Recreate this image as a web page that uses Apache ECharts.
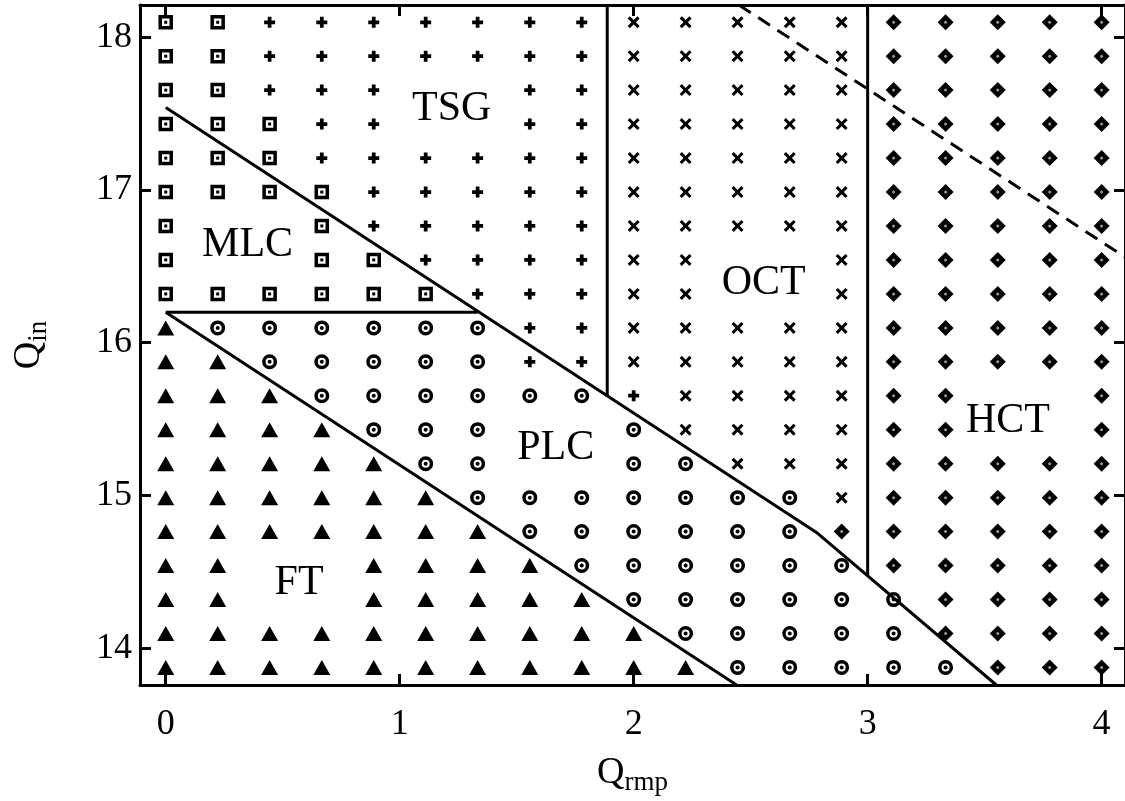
<!DOCTYPE html>
<html>
<head>
<meta charset="utf-8">
<script src="https://cdn.jsdelivr.net/npm/echarts@6/dist/echarts.min.js"></script>
<style>
html, body { margin: 0; padding: 0; background: #fff; }
#main { width: 1125px; height: 801px; }
</style>
</head>
<body>
<div id="main"></div>
<script>
// points of the scan
const qRmp = [0, 0.222, 0.444, 0.667, 0.889, 1.111, 1.333, 1.556, 1.778, 2.0,
  2.222, 2.444, 2.667, 2.889, 3.111, 3.333, 3.556, 3.778, 4.0]
const qIn = [13.875, 14.097, 14.319, 14.542, 14.764, 14.986, 15.208, 15.431, 15.653, 15.875,
  16.097, 16.319, 16.542, 16.764, 16.986, 17.208, 17.431, 17.653, 17.875, 18.097]

// regime of each point, top row first (S=MLC P=TSG X=OCT D=HCT C=PLC T=FT, '.' = none)
const regimeRows = [
  'SSPPPPPPPXXXXXDDDDD',
  'SSPPPPPPPXXXXXDDDDD',
  'SSPPP..PPXXXXXDDDDD',
  'SSSPP..PPXXXXXDDDDD',
  'SSSPPPPPPXXXXXDDDDD',
  'SSSSPPPPPXXXXXDDDDD',
  'S..SPPPPPXXXXXDDDDD',
  'S..SSPPPPXX..XDDDDD',
  'SSSSSSPPPXX..XDDDDD',
  'TCCCCCCPPXXXXXDDDDD',
  'TTCCCCCPPXXXXXDDDDD',
  'TTTCCCCCCPXXXXDD..D',
  'TTTTCCC..CXXXXDD..D',
  'TTTTTCC..CCXXXDDDDD',
  'TTTTTTCCCCCCCXDDDDD',
  'TTTTTTTCCCCCCDDDDDD',
  'TT..TTTTCCCCCCDDDDD',
  'TT..TTTTTCCCCCCDDDD',
  'TTTTTTTTTTCCCCCDDDD',
  'TTTTTTTTTTTCCCCCDDD'
]

// region names
const regionNames = ['TSG', 'MLC', 'OCT', 'PLC', 'FT', 'HCT']
const regionX = [1.222, 0.35, 2.556, 1.667, 0.57, 3.6]
const regionY = [17.53, 16.64, 16.39, 15.31, 14.43, 15.49]

// boundaries
const upperBound = [[0, 17.54], [2.78, 14.76], [3.55, 13.76]]
const lowerBound = [[0, 16.2], [2.44, 13.76]]
const mlcBound = [[0, 16.2], [1.333, 16.2]]
const tsgBound = [[1.887, 15.653], [1.887, 18.21]]
const hctBound = [[3.0, 14.48], [3.0, 18.21]]
const dashBound = [[2.45, 18.21], [4.1, 16.56]]

const xTicks = [0, 1, 2, 3, 4]
const yTicks = [14, 15, 16, 17, 18]

let pts = { S: [], P: [], X: [], D: [], C: [], T: [] }
regimeRows.forEach((row, r) => {
  let j = qIn.length - 1 - r
  for (let i = 0; i < row.length; i++) {
    let c = row[i]
    if (pts[c]) pts[c].push([qRmp[i], qIn[j]])
  }
})

const plusPath = 'path://M3.3,0H6.7V3.3H10V6.7H6.7V10H3.3V6.7H0V3.3H3.3Z'
const crossPath = 'path://M0,1.8L1.8,0L5,3.2L8.2,0L10,1.8L6.8,5L10,8.2L8.2,10L5,6.8L1.8,10L0,8.2L3.2,5Z'
const font = "'Liberation Serif', 'Times New Roman', serif"

function marks(data, symbol, size, style) {
  return { type: 'scatter', data: data, symbol: symbol, symbolSize: size, silent: true,
    itemStyle: Object.assign({ color: '#000', opacity: 1 }, style || {}), z: 2 }
}
function bound(data, dashed) {
  return { type: 'line', data: data, showSymbol: false, silent: true, z: 5,
    lineStyle: { color: '#000', width: 3, opacity: 1, type: dashed ? [14, 9] : 'solid' } }
}

let axisCommon = {
  type: 'value',
  axisLine: { show: true, onZero: false, lineStyle: { color: '#000', width: 3 } },
  axisTick: { show: true, inside: true, length: 11, lineStyle: { color: '#000', width: 3 } },
  splitLine: { show: false }
}

let myChart = echarts.init(document.getElementById('main'))
let option = {
  animation: false,
  backgroundColor: '#fff',
  grid: { left: 140, top: 5, width: 988, height: 680 },
  xAxis: [
    Object.assign({}, axisCommon, {
      min: -0.11, max: 4.1, position: 'bottom',
      axisTick: Object.assign({}, axisCommon.axisTick, { customValues: xTicks }),
      axisLabel: { customValues: xTicks, color: '#000', fontFamily: font, fontSize: 36, margin: 22 },
      name: '{q|Q}{s|rmp}', nameLocation: 'middle', nameGap: 66,
      nameTextStyle: { rich: {
        q: { fontFamily: font, fontSize: 38, color: '#000' },
        s: { fontFamily: font, fontSize: 27, color: '#000', padding: [18, 0, 0, 0] }
      } }
    }),
    Object.assign({}, axisCommon, {
      min: -0.11, max: 4.1, position: 'top',
      axisTick: Object.assign({}, axisCommon.axisTick, { customValues: xTicks }),
      axisLabel: { show: false }
    })
  ],
  yAxis: [
    Object.assign({}, axisCommon, {
      min: 13.76, max: 18.21, position: 'left',
      axisTick: Object.assign({}, axisCommon.axisTick, { customValues: yTicks }),
      axisLabel: { customValues: yTicks, color: '#000', fontFamily: font, fontSize: 36, margin: 8 },
      name: '{q|Q}{s|in}', nameLocation: 'middle', nameGap: 88, nameRotate: 90,
      nameTextStyle: { rich: {
        q: { fontFamily: font, fontSize: 38, color: '#000' },
        s: { fontFamily: font, fontSize: 27, color: '#000', padding: [18, 0, 0, 0] }
      } }
    }),
    Object.assign({}, axisCommon, {
      min: 13.76, max: 18.21, position: 'right',
      axisTick: Object.assign({}, axisCommon.axisTick, { customValues: yTicks }),
      axisLabel: { show: false }
    })
  ],
  series: [
    marks(pts.P, plusPath, 11),
    marks(pts.X, crossPath, 12),
    marks(pts.D, 'diamond', 16),
    marks(pts.D, 'circle', 3, { color: '#999' }),
    marks(pts.S, 'rect', 11, { color: '#fff', borderColor: '#000', borderWidth: 3.5 }),
    marks(pts.S, 'rect', 3),
    marks(pts.C, 'circle', 11.5, { color: '#fff', borderColor: '#000', borderWidth: 3.5 }),
    marks(pts.C, 'circle', 4),
    marks(pts.T, 'triangle', [17, 15]),
    bound(upperBound),
    bound(lowerBound),
    bound(mlcBound),
    bound(tsgBound),
    bound(hctBound),
    bound(dashBound, true),
    {
      type: 'scatter', silent: true, symbolSize: 0, z: 6,
      itemStyle: { opacity: 1 },
      data: regionNames.map((n, k) => [regionX[k], regionY[k], n]),
      label: { show: true, position: 'inside', formatter: p => p.value[2],
        color: '#000', opacity: 1, textBorderWidth: 0, fontFamily: font, fontSize: 42 }
    }
  ]
}
myChart.setOption(option)
</script>
</body>
</html>
